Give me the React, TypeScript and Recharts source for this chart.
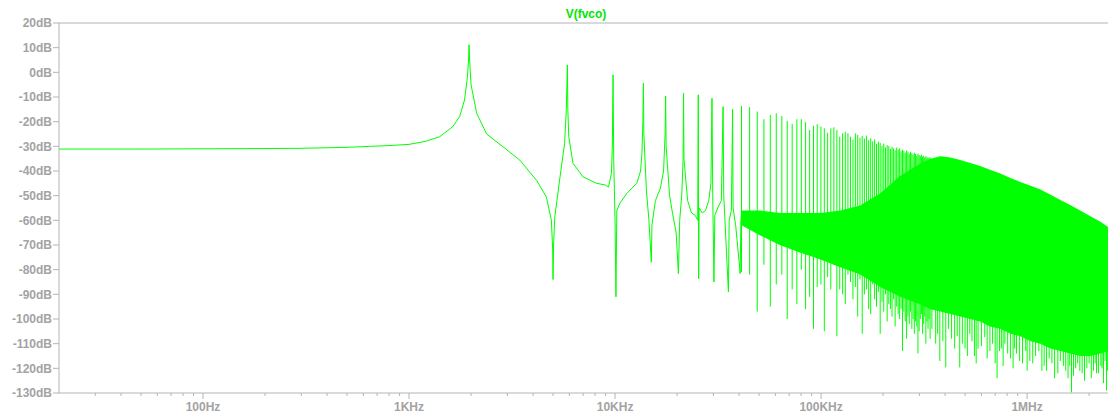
import React from 'react';
import { ComposedChart, Line, Area, XAxis, YAxis, ReferenceLine } from 'recharts';

// Low-frequency part of the trace: fundamental, first harmonics and notches (Hz, dB)
const traceFreq = [
  20, 50, 100, 200, 300, 500, 650, 800, 1000, 1200, 1410, 1630, 1760, 1860, 1920, 1945, 1956, 1968, 2000,
  2130, 2380, 2860, 3450, 4160, 4640, 4910, 4980, 5000, 5030, 5100, 5380, 5690, 5800, 5870, 5900, 5960,
  6250, 7000, 8140, 9000, 9300, 9600, 9700, 9780, 9850, 10000, 10100, 10200, 10570, 11400, 12750, 13300,
  13500, 13650, 13730, 13800, 14200, 14600, 15000, 15100, 15700, 16600, 17200, 17500, 17600, 17700, 18400,
  19000, 19800, 20300, 20600, 21100, 21400, 21500, 21600, 22500, 23500, 24500, 25200, 25350, 25450, 25600,
  26500, 27500, 28500, 29200, 29550, 29800, 30200, 30500, 31500, 32800, 33450, 33700, 35500, 35800, 36700,
  37200, 37400, 38500, 40500, 40800, 41100,
];
const traceDb = [
  -31.1, -31.1, -31.0, -30.9, -30.8, -30.4, -30.0, -29.7, -29.2, -28.0, -26.1, -22.0, -18.0, -11.2, -2.0, 5.0, 11.2, 5.0, -5.0,
  -16.6, -25.0, -30.2, -35.6, -43.8, -50.5, -60.0, -72.0, -84.0, -70.0, -58.6, -43.7, -28.8, -15.2, 3.0, -15.0, -26.0,
  -36.9, -42.4, -45.0, -45.7, -46.5, -41.0, -30.0, -1.0, -35.0, -60.0, -91.0, -56.0, -53.0, -49.1, -45.0, -40.0,
  -33.0, -20.0, -4.4, -25.0, -48.0, -60.0, -77.0, -62.0, -52.0, -47.0, -40.0, -25.0, -9.6, -30.0, -50.0,
  -57.0, -65.0, -81.6, -60.0, -49.0, -35.0, -8.5, -35.0, -52.0, -57.0, -58.0, -60.0, -9.1, -83.7, -55.0,
  -57.0, -56.0, -52.0, -45.0, -10.5, -50.0, -85.0, -58.0, -55.0, -52.0, -13.9, -50.0, -89.0, -60.0, -56.0,
  -15.0, -55.0, -62.0, -81.6, -60.0, -57.0,
];

// Odd harmonics above 40 kHz (kHz, peak dB, notch dB)
const spikeKHz = [
  41.1, 45.0, 49.0, 52.8, 56.7, 60.6, 64.5, 68.5, 72.4, 76.3, 80.2, 84.1, 88.0, 91.9, 95.8,
  99.8, 103.7, 107.6, 111.5, 115.4, 119.3, 123.2, 127.2, 131.1, 135.0, 138.9, 142.8, 146.7, 150.6, 154.5,
  158.4, 162.3, 166.3, 170.2, 174.1, 178.0, 181.9, 185.8, 189.7, 193.6, 197.6, 201.5, 205.4, 209.3, 213.2,
  217.1, 221.0, 224.9, 228.8, 232.8, 236.7, 240.6, 244.5, 248.4, 252.3, 256.2, 260.1, 264.0, 268.0, 271.9,
  275.8, 279.7, 283.6, 287.5, 291.4, 295.3, 299.2, 303.1, 307.0, 310.9, 314.8, 318.7, 322.6, 326.6, 330.5,
  334.4, 338.3,
];
const spikeTop = [
  -13.6, -14.1, -15.9, -19.0, -17.3, -16.6, -17.7, -19.7, -20.9, -19.0, -19.0, -20.2, -23.4, -21.7, -21.0,
  -22.0, -22.7, -24.5, -22.7, -22.3, -23.4, -26.1, -24.7, -24.1, -24.7, -26.1, -27.4, -24.7, -25.4, -26.5,
  -25.8, -26.9, -25.6, -27.5, -26.8, -28.0, -27.2, -29.0, -28.1, -28.6, -29.8, -28.9, -30.4, -29.5, -29.9,
  -31.0, -30.2, -30.8, -31.6, -30.5, -31.3, -30.9, -32.0, -31.4, -31.8, -32.5, -31.7, -32.2, -33.0, -32.3,
  -32.8, -33.4, -32.6, -33.1, -33.8, -33.0, -33.5, -33.9, -33.4, -34.2, -33.8, -34.5, -34.0, -34.6, -34.3,
  -34.9, -34.4,
];
const spikeLow = [
  -81, -82, -97, -78, -95, -86, -82, -100, -88, -94, -80, -96, -91, -104, -87,
  -86, -105, -83, -88, -78, -107, -88, -90, -94, -82, -85, -92, -87, -99, -84,
  -106, -90, -88, -96, -98, -86, -92, -95, -89, -106, -93, -97, -90, -101, -94,
  -96, -99, -92, -103, -95, -98, -100, -96, -113, -97, -101, -108, -99, -102, -97,
  -104, -100, -106, -101, -103, -114, -105, -100, -98, -106, -102, -99, -110, -101, -104,
  -100, -108,
];

// Deep dips hanging below the dense band (kHz, dB)
const dipKHz = [
  345, 360, 368, 377, 390, 403, 415, 430, 445, 458, 471, 485, 500, 513, 527, 540, 555, 566, 578, 600,
  623, 640, 660, 680, 700, 715, 735, 750, 765, 780, 805, 830, 855, 870, 888, 920, 950, 985, 1000, 1031,
  1065, 1100, 1140, 1180, 1210, 1243, 1280, 1320, 1360, 1410, 1450, 1500, 1540, 1580, 1610, 1643, 1680,
  1720, 1760, 1803, 1850, 1900, 1950, 2000, 2050, 2100, 2140, 2173, 2220, 2280, 2310, 2350, 2390, 2430, 2460,
];
const dipLow = [
  -104, -110, -106, -117, -109, -119.6, -104, -108, -112, -107, -119.6, -110, -112, -115, -106, -109, -115, -118, -112, -111,
  -107.4, -116, -113, -110, -118, -124, -113, -112, -119, -110, -114, -116, -120, -112, -114, -117, -118, -113, -121, -117,
  -118, -115, -113, -121, -119, -121, -116, -118, -124, -122, -117, -119, -121, -124, -119, -129.8, -123,
  -120, -118, -121, -122, -125, -120, -118, -124, -121, -118, -122, -122, -119, -120, -126, -117, -129, -121,
];
const DIP_START = -90;

// Dense harmonic band above ~40 kHz (Hz, lower edge dB, upper edge dB)
const bandFreq = [
  41100, 50400, 63000, 78800, 100000, 124000, 155000, 194000, 242000, 303000, 340000, 379000, 424000, 474000, 530000,
  593000, 660000, 741000, 830000, 927000, 1040000, 1160000, 1300000, 1450000, 1620000, 1810000, 2030000, 2270000, 2470000,
];
const bandLow = [
  -62, -66, -70, -73, -76, -79, -82, -87, -91, -94, -96, -97, -98, -99, -100,
  -101, -103, -104, -106, -107, -109, -110, -112, -113, -114, -115, -115, -114, -113,
];
const bandHigh = [
  -56, -56, -57, -57, -57, -56, -54, -49, -42, -37, -35, -34, -34.5, -35.5, -36.8,
  -38, -39.5, -41, -42.8, -44.5, -46, -47.5, -49.6, -51.8, -53.8, -56, -58.3, -60.6, -62.7,
];

const majorTicks = [100, 1000, 10000, 100000, 1000000];
const majorLabels = ['100Hz', '1KHz', '10KHz', '100KHz', '1MHz'];
const minorTicks = [
  30, 40, 50, 60, 70, 80, 90,
  200, 300, 400, 500, 600, 700, 800, 900,
  2000, 3000, 4000, 5000, 6000, 7000, 8000, 9000,
  20000, 30000, 40000, 50000, 60000, 70000, 80000, 90000,
  200000, 300000, 400000, 500000, 600000, 700000, 800000, 900000,
  2000000,
];
const dbTicks = [20, 10, 0, -10, -20, -30, -40, -50, -60, -70, -80, -90, -100, -110, -120, -130];

const GREEN = '#00ff00';
const AXIS = '#b4b4b4';
const LABEL = '#a3a3a3';
const FONT = '"Liberation Sans", Arial, sans-serif';

const traceRows = traceFreq.map((f, i) => ({ f, db: traceDb[i] }));

// each spike is its own vertical segment, separated by a null row
const spikeRows = [
  ...spikeKHz.flatMap((k, i) => [
    { f: k * 1000, db: spikeLow[i] },
    { f: k * 1000, db: spikeTop[i] },
    { f: k * 1000, db: null },
  ]),
  ...dipKHz.flatMap((k, i) => [
    { f: k * 1000, db: DIP_START },
    { f: k * 1000, db: dipLow[i] },
    { f: k * 1000, db: null },
  ]),
];
const bandRows = bandFreq.map((f, i) => ({ f, range: [bandLow[i], bandHigh[i]] }));

const allTicks = [...majorTicks, ...minorTicks].sort((a, b) => a - b);

const FreqTick = (props: any) => {
  const { x, y, payload } = props;
  const idx = majorTicks.indexOf(payload.value);
  const label = idx >= 0 ? majorLabels[idx] : null;
  return (
    <g>
      <line x1={x} y1={y} x2={x} y2={y + (label ? 6 : 3)} stroke={AXIS} />
      {label && (
        <text x={x} y={y + 9} dy="0.71em" textAnchor="middle" fill={LABEL}
          style={{ fontFamily: FONT, fontSize: 12, fontWeight: 'bold' }}>
          {label}
        </text>
      )}
    </g>
  );
};

const App: React.FC = () => {
  return (
    <div style={{ position: 'absolute', left: 0, top: 0, width: 1108, height: 414, background: '#fff' }}>
      <div style={{
        position: 'absolute', left: 586, top: 7, transform: 'translateX(-50%)',
        fontFamily: FONT, fontSize: 12, fontWeight: 'bold', color: '#00e600', lineHeight: '14px',
      }}>
        V(fvco)
      </div>
      <ComposedChart width={1108} height={414} margin={{ top: 23, right: 0, bottom: 0, left: 0 }}>
        <XAxis
          dataKey="f"
          type="number"
          scale="log"
          domain={[20, 2470000]}
          allowDataOverflow
          ticks={allTicks}
          interval={0}
          height={21}
          tickLine={false}
          tickSize={0}
          tickMargin={0}
          axisLine={{ stroke: AXIS }}
          tick={<FreqTick />}
        />
        <YAxis
          type="number"
          domain={[-130, 20]}
          ticks={dbTicks}
          interval={0}
          width={59}
          tickSize={6}
          tickMargin={1}
          stroke={AXIS}
          tick={{ fill: LABEL, fontSize: 12, fontWeight: 'bold', fontFamily: FONT }}
          tickFormatter={(v: number) => `${v}dB`}
        />
        <ReferenceLine y={20} stroke={AXIS} />
        <Area
          data={bandRows}
          dataKey="range"
          type="linear"
          stroke="none"
          fill={GREEN}
          fillOpacity={1}
          isAnimationActive={false}
        />
        <Line
          data={spikeRows}
          dataKey="db"
          type="linear"
          stroke={GREEN}
          strokeWidth={1}
          dot={false}
          connectNulls={false}
          isAnimationActive={false}
        />
        <Line
          data={traceRows}
          dataKey="db"
          type="linear"
          stroke={GREEN}
          strokeWidth={1}
          dot={false}
          isAnimationActive={false}
        />
      </ComposedChart>
    </div>
  );
};

export default App;
